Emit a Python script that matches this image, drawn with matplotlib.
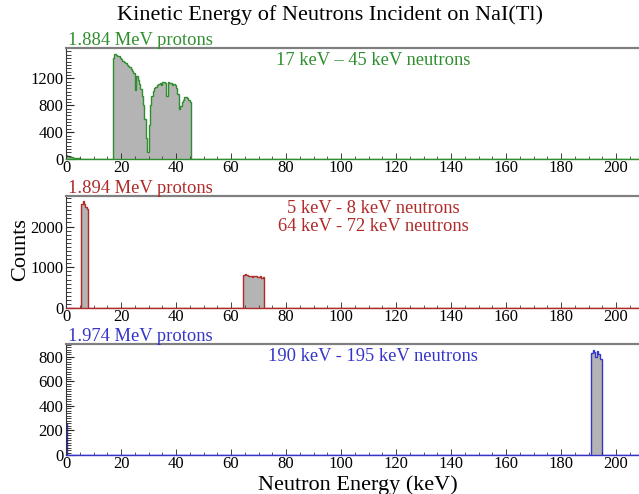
import numpy as np
import matplotlib.pyplot as plt
from matplotlib.ticker import MultipleLocator, FixedLocator

plt.rcParams["font.family"] = ["Liberation Serif", "DejaVu Serif"]

# --- histogram binning (keV) ---
BIN_W = 0.5
X_MAX = 210.0

# 1.884 MeV protons : counts per 0.5 keV bin
p1_low_start = 0.0
p1_low_counts = [65, 48, 38, 30, 24, 20, 17, 14, 12, 10]
p1_start = 17.0
p1_counts = [
    1500, 1560, 1550, 1530, 1535, 1500, 1485, 1460, 1440, 1430,
    1400, 1385, 1365, 1335, 1315, 1280, 1020, 1240, 1180, 1115,
    1040, 940, 805, 595, 320, 105, 500, 800, 940, 1010,
    1055, 1075, 1095, 1115, 1130, 1105, 1150, 1145, 1125, 940,
    1150, 1125, 1135, 1105, 1115, 1095, 1055, 960, 750, 790,
    845, 885, 920, 930, 910, 885, 845,
]

# 1.894 MeV protons
p2a_start = 5.5
p2a_counts = [2560, 2620, 2560, 2480, 2420]
p2b_start = 64.5
p2b_counts = [820, 845, 800, 790, 780, 790, 770, 785, 775, 780,
              770, 760, 790, 740, 770]

# 1.974 MeV protons
p3a_start = 0.0
p3a_counts = [260]
p3b_start = 191.0
p3b_counts = [830, 860, 840, 800, 850, 820, 780, 780]

GREEN = "#2f8f2f"
RED = "#b02a2a"
BLUE = "#3535c8"
FILL = "#b4b4b4"

edges = np.arange(0.0, X_MAX + BIN_W / 2, BIN_W)


def build(segments):
    h = np.zeros(len(edges) - 1)
    for start, vals in segments:
        i0 = int(round(start / BIN_W))
        h[i0:i0 + len(vals)] = vals
    return h


panels = [
    dict(hist=build([(p1_low_start, p1_low_counts), (p1_start, p1_counts)]),
         color=GREEN, label="1.884 MeV protons",
         notes=["17 keV \u2013 45 keV neutrons"],
         ymax=1650, yticks=[0, 400, 800, 1200], minor=50,
         rect=[0.1033, 0.678, 0.9038, 0.2247]),
    dict(hist=build([(p2a_start, p2a_counts), (p2b_start, p2b_counts)]),
         color=RED, label="1.894 MeV protons",
         notes=["5 keV - 8 keV neutrons", "64 keV - 72 keV neutrons"],
         ymax=2750, yticks=[0, 1000, 2000], minor=100,
         rect=[0.1033, 0.3765, 0.9038, 0.2267]),
    dict(hist=build([(p3a_start, p3a_counts), (p3b_start, p3b_counts)]),
         color=BLUE, label="1.974 MeV protons",
         notes=["190 keV - 195 keV neutrons"],
         ymax=905, yticks=[0, 200, 400, 600, 800], minor=20,
         rect=[0.1033, 0.0789, 0.9038, 0.2247]),
]

fig = plt.figure(figsize=(6.39, 4.94), dpi=100)

for p in panels:
    ax = fig.add_axes(p["rect"])
    ax.stairs(p["hist"], edges, fill=True, color=FILL, lw=0)
    ax.stairs(p["hist"], edges, color=p["color"], lw=1.0)
    ax.set_xlim(0, X_MAX)
    ax.set_ylim(0, p["ymax"])

    ax.xaxis.set_major_locator(MultipleLocator(20))
    ax.xaxis.set_minor_locator(MultipleLocator(5))
    ax.yaxis.set_major_locator(FixedLocator(p["yticks"]))
    ax.yaxis.set_minor_locator(MultipleLocator(p["minor"]))
    ax.tick_params(axis="both", which="both", direction="in",
                   top=False, right=False, labelsize=12, colors="#222222")
    ax.tick_params(axis="y", which="major", length=6, width=0.8, pad=2)
    ax.tick_params(axis="y", which="minor", length=3.5, width=0.6)
    ax.tick_params(axis="x", which="major", length=4, width=0.6, pad=1)
    ax.tick_params(axis="x", which="minor", length=2, width=0.5)
    for t in ax.get_xticklabels() + ax.get_yticklabels():
        t.set_color("black")

    ax.spines["right"].set_visible(False)
    ax.spines["top"].set_color("#808080")
    ax.spines["top"].set_linewidth(1.6)
    ax.spines["left"].set_color("#333333")
    ax.spines["left"].set_linewidth(0.8)
    ax.spines["bottom"].set_color(p["color"])
    ax.spines["bottom"].set_linewidth(1.0)

    ax.text(0.004, 0.995, p["label"], transform=ax.transAxes, color=p["color"],
            fontsize=13.3, ha="left", va="bottom")
    for k, note in enumerate(p["notes"]):
        ax.text(0.532, 0.965 - k * 0.165, note, transform=ax.transAxes,
                color=p["color"], fontsize=13.3, ha="center", va="top")

fig.text(0.517, 0.97, "Kinetic Energy of Neutrons Incident on NaI(Tl)",
         ha="center", va="center", fontsize=16)
fig.text(0.032, 0.495, "Counts", rotation=90, ha="center", va="center",
         fontsize=16)
fig.text(0.56, 0.018, "Neutron Energy (keV)", ha="center", va="center",
         fontsize=16)

fig.savefig("out.png", dpi=100)
